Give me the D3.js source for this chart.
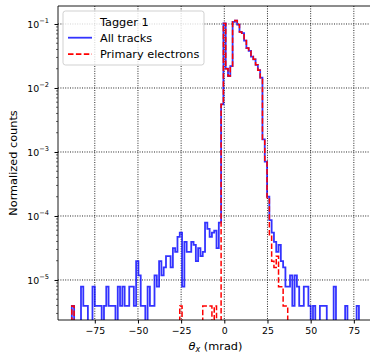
<!DOCTYPE html>
<html>
<head>
<meta charset="utf-8">
<script src="https://cdn.jsdelivr.net/npm/d3@7"></script>
<style>
  body { margin: 0; background: #fff; }
  svg { display: block; font-family: "DejaVu Sans", sans-serif; }
</style>
</head>
<body>
<svg id="chart" width="370" height="353"></svg>
<script>
// binning of theta_x in mrad, counts normalized by number of entries
const binStart = -88.3;
const binWidth = 1.33;
const entries = 254500;

const allTracks = [
  1, 0, 0, 0, 2, 1, 1, 0, 0, 2,
  1, 1, 1, 0, 1, 2, 1, 1, 1, 0,
  2, 1, 2, 1, 1, 2, 2, 1, 5, 3,
  1, 1, 0, 2, 1, 1, 3, 2, 5, 3,
  4, 6, 6, 4, 8, 7, 12, 14, 2, 10,
  7, 7, 10, 9, 5, 8, 6, 7, 20, 16,
  12, 14, 15, 8, 20, 1415, 26000, 5090, 3920, 5600,
  27500, 28750, 24900, 19100, 18300, 14000, 10700, 9670, 7890, 7130,
  5850, 4830, 3690, 402, 180, 51, 22, 14, 10, 7,
  9, 5, 4, 2, 2, 3, 1, 3, 2, 1,
  1, 2, 2, 1, 0, 1, 0, 0, 1, 1,
  1, 0, 0, 0, 2, 0, 0, 0, 0, 1,
  0, 0, 0, 0, 1,
];

const primaryElectrons = [
  1, 0, 0, 0, 0, 0, 0, 0, 0, 0,
  0, 0, 0, 0, 0, 0, 0, 0, 0, 0,
  0, 0, 0, 0, 0, 0, 0, 0, 0, 0,
  0, 0, 0, 0, 0, 0, 0, 0, 0, 0,
  0, 0, 0, 0, 0, 0, 0, 1, 0, 0,
  0, 0, 0, 0, 0, 0, 0, 1, 1, 1,
  1, 0, 1, 0, 0, 1415, 26000, 5090, 3920, 5600,
  27500, 28750, 24900, 19100, 18300, 14000, 10700, 9670, 7890, 7130,
  5850, 4830, 3690, 402, 178, 49, 13, 5, 4, 6,
  2, 2, 1, 1, 0, 0, 0, 0, 0, 0,
  0, 0, 0, 0, 0, 0, 0, 0, 0, 0,
  0, 0, 0, 0, 0, 0, 0, 0, 0, 0,
  0, 0, 0, 0, 0,
];

const xTicks = [-75, -50, -25, 0, 25, 50, 75];
const yTicks = [1e-5, 1e-4, 1e-3, 1e-2, 1e-1];

const plot = { left: 58, right: 373, top: 6, bottom: 320 };
const tickFont = 9.4;
const labelFont = 11.3;

const svg = d3.select("#chart");

const x = d3.scaleLinear().domain([-96.3, 86.1]).range([plot.left, plot.right]);
const y = d3.scaleLog().domain([2.37e-6, 0.191]).range([plot.bottom, plot.top]);

svg.append("clipPath")
  .attr("id", "plot-area")
  .append("rect")
  .attr("x", plot.left)
  .attr("y", plot.top)
  .attr("width", plot.right - plot.left)
  .attr("height", plot.bottom - plot.top);

// dotted grid on major ticks
const grid = svg.append("g")
  .attr("stroke", "#000")
  .attr("stroke-opacity", 0.85)
  .attr("stroke-width", 1)
  .attr("stroke-dasharray", "1,1.4");

grid.selectAll(".gx")
  .data(xTicks)
  .join("line")
  .attr("x1", (d) => x(d))
  .attr("x2", (d) => x(d))
  .attr("y1", plot.top)
  .attr("y2", plot.bottom);

grid.selectAll(".gy")
  .data(yTicks)
  .join("line")
  .attr("x1", plot.left)
  .attr("x2", plot.right)
  .attr("y1", (d) => y(d))
  .attr("y2", (d) => y(d));

// step outline like histtype="step"; empty bins drop below the axis
const edges = d3.range(allTracks.length + 1).map((i) => binStart + i * binWidth);
const floor = 1e-9;
const stepPath = (counts) => {
  const pts = [[edges[0], floor]];
  counts.forEach((c, i) => {
    const v = c > 0 ? c / entries : floor;
    pts.push([edges[i], v], [edges[i + 1], v]);
  });
  pts.push([edges[edges.length - 1], floor]);
  return d3.line().x((d) => x(d[0])).y((d) => y(d[1]))(pts);
};

const lines = svg.append("g").attr("clip-path", "url(#plot-area)");

lines.append("path")
  .attr("d", stepPath(allTracks))
  .attr("fill", "none")
  .attr("stroke", "blue")
  .attr("stroke-opacity", 0.8)
  .attr("stroke-width", 1.8);

lines.append("path")
  .attr("d", stepPath(primaryElectrons))
  .attr("fill", "none")
  .attr("stroke", "red")
  .attr("stroke-width", 1.5)
  .attr("stroke-dasharray", "5.5,2.4");

// spines
svg.append("g")
  .attr("stroke", "#000")
  .attr("stroke-width", 0.9)
  .selectAll("line")
  .data([
    [plot.left, plot.top, plot.left, plot.bottom],
    [plot.left, plot.bottom, plot.right, plot.bottom],
    [plot.left, plot.top, plot.right, plot.top],
    [plot.right, plot.top, plot.right, plot.bottom],
  ])
  .join("line")
  .attr("x1", (d) => d[0])
  .attr("y1", (d) => d[1])
  .attr("x2", (d) => d[2])
  .attr("y2", (d) => d[3]);

// x axis
const xAxis = svg.append("g")
  .attr("transform", `translate(0,${plot.bottom})`)
  .call(
    d3.axisBottom(x)
      .tickValues(xTicks)
      .tickSize(3.5)
      .tickPadding(3.5)
      .tickFormat((d) => (d < 0 ? "\u2212" + Math.abs(d) : d))
  );
xAxis.select(".domain").remove();
xAxis.selectAll("text")
  .attr("font-size", tickFont)
  .attr("font-family", "DejaVu Sans")
  .attr("fill", "#000");

// y axis: decades with minor ticks
const yAxis = svg.append("g")
  .attr("transform", `translate(${plot.left},0)`)
  .call(d3.axisLeft(y).tickValues(yTicks).tickSize(3.5).tickFormat(""));
yAxis.select(".domain").remove();

const minor = y.ticks().filter((v) => Math.abs(Math.log10(v) - Math.round(Math.log10(v))) > 1e-6);
yAxis.selectAll(".minor")
  .data(minor)
  .join("line")
  .attr("x1", 0)
  .attr("x2", -2)
  .attr("y1", (d) => y(d))
  .attr("y2", (d) => y(d))
  .attr("stroke", "#000")
  .attr("stroke-width", 0.6);

const yLabels = svg.append("g")
  .attr("font-size", tickFont)
  .attr("fill", "#000")
  .selectAll("text")
  .data(yTicks)
  .join("text")
  .attr("x", plot.left - 9)
  .attr("y", (d) => y(d) + 3.6)
  .attr("text-anchor", "end");
yLabels.append("tspan").text("10");
yLabels.append("tspan")
  .attr("font-size", 6.6)
  .attr("dy", -4.3)
  .text((d) => "\u2212" + Math.round(-Math.log10(d)));

// axis titles
svg.append("text")
  .attr("transform", `translate(16.5,${(plot.top + plot.bottom) / 2}) rotate(-90)`)
  .attr("text-anchor", "middle")
  .attr("font-size", labelFont)
  .text("Normalized counts");

const xTitle = svg.append("text")
  .attr("x", (plot.left + plot.right) / 2)
  .attr("y", 349.8)
  .attr("text-anchor", "middle")
  .attr("font-size", labelFont);
xTitle.append("tspan").attr("font-style", "italic").text("\u03b8");
xTitle.append("tspan").attr("font-style", "italic").attr("font-size", 8).attr("dy", 2).text("x");
xTitle.append("tspan").attr("dy", -2).text(" (mrad)");

// legend
const legend = svg.append("g");
legend.append("rect")
  .attr("x", 63)
  .attr("y", 11)
  .attr("width", 141)
  .attr("height", 54)
  .attr("rx", 2.5)
  .attr("fill", "#fff")
  .attr("fill-opacity", 0.8)
  .attr("stroke", "#ccc")
  .attr("stroke-width", 0.9);

legend.append("text")
  .attr("x", 100)
  .attr("y", 25.5)
  .attr("font-size", labelFont)
  .text("Tagger 1");

const legendItems = [
  { label: "All tracks", color: "blue", dash: null, opacity: 0.8 },
  { label: "Primary electrons", color: "red", dash: "5.5,2.4", opacity: 1 },
];

const items = legend.selectAll(".item")
  .data(legendItems)
  .join("g")
  .attr("transform", (d, i) => `translate(0,${37.7 + i * 16.5})`);

items.append("line")
  .attr("x1", 68)
  .attr("x2", 92)
  .attr("stroke", (d) => d.color)
  .attr("stroke-opacity", (d) => d.opacity)
  .attr("stroke-width", 1.8)
  .attr("stroke-dasharray", (d) => d.dash);

items.append("text")
  .attr("x", 100)
  .attr("y", 4)
  .attr("font-size", labelFont)
  .text((d) => d.label);
</script>
</body>
</html>
